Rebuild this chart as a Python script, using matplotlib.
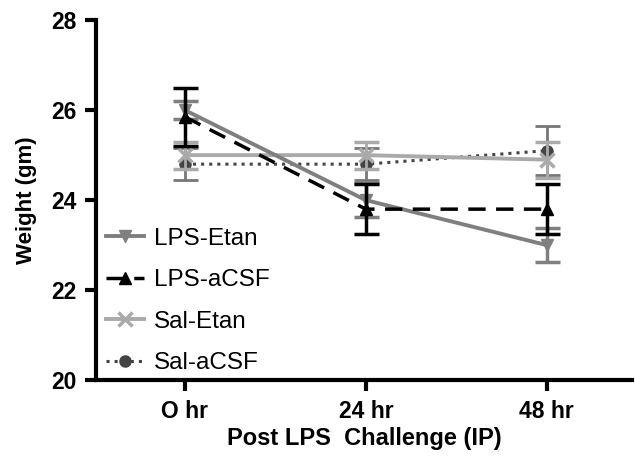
import numpy as np
import matplotlib.pyplot as plt

# weight over time after LPS challenge
time_labels = ['O hr', '24 hr', '48 hr']

lps_etan = [26.0, 24.0, 23.0]
lps_etan_err = [0.2, 0.38, 0.38]

lps_acsf = [25.85, 23.8, 23.8]
lps_acsf_err = [0.65, 0.55, 0.55]

sal_etan = [25.0, 25.0, 24.9]
sal_etan_err = [0.3, 0.3, 0.4]

sal_acsf = [24.8, 24.8, 25.1]
sal_acsf_err = [0.35, 0.35, 0.55]

plt.rcParams['font.family'] = ['Liberation Sans', 'DejaVu Sans']

fig = plt.figure(figsize=(6.35, 4.58), dpi=100)
ax = fig.add_axes([0.151, 0.170, 0.844, 0.786])

x = np.arange(len(time_labels))

ax.errorbar(x, sal_acsf, yerr=sal_acsf_err, color='#444444', ecolor='#777777',
            linestyle=':', linewidth=2.2, marker='o', markersize=8,
            capsize=9, capthick=2, elinewidth=2, label='Sal-aCSF', zorder=2)
ax.errorbar(x, sal_etan, yerr=sal_etan_err, color='#aaaaaa', ecolor='#aaaaaa',
            linestyle='-', linewidth=2.8, marker='x', markersize=10, mew=2.5,
            capsize=9, capthick=2, elinewidth=2, label='Sal-Etan', zorder=3)
ax.errorbar(x, lps_etan, yerr=lps_etan_err, color='#7f7f7f', ecolor='#7f7f7f',
            linestyle='-', linewidth=2.8, marker='v', markersize=9,
            capsize=9, capthick=2.5, elinewidth=2.5, label='LPS-Etan', zorder=4)
ax.errorbar(x, lps_acsf, yerr=lps_acsf_err, color='black', ecolor='black',
            linestyle=(0, (5, 3)), linewidth=2.5, marker='^', markersize=9,
            capsize=9, capthick=2.5, elinewidth=2.5, label='LPS-aCSF', zorder=5)

ax.set_xlim(-0.492, 2.47)
ax.set_ylim(20, 28)
ax.set_yticks([20, 22, 24, 26, 28])
ax.set_yticklabels(['20', '22', '24', '26', '28'], fontsize=16.5, fontweight='bold')
ax.set_xticks(x)
ax.set_xticklabels(time_labels, fontsize=16.5, fontweight='bold')

for s in ['top', 'right']:
    ax.spines[s].set_visible(False)
for s in ['left', 'bottom']:
    ax.spines[s].set_linewidth(3)

ax.tick_params(axis='both', width=3, length=8, pad=6)

ax.set_xlabel('Post LPS  Challenge (IP)', fontsize=17, fontweight='bold', labelpad=3)
ax.set_ylabel('Weight (gm)', fontsize=16, fontweight='bold', labelpad=10)

handles, labels = ax.get_legend_handles_labels()
order = [2, 3, 1, 0]
leg = ax.legend([handles[i][0] for i in order], [labels[i] for i in order],
                loc='lower left', bbox_to_anchor=(0.0, -0.01), frameon=False,
                fontsize=17.5, handlelength=1.6, handletextpad=0.4,
                labelspacing=0.8, borderaxespad=0.1, borderpad=0.3)

fig.savefig('out.png', dpi=100)
